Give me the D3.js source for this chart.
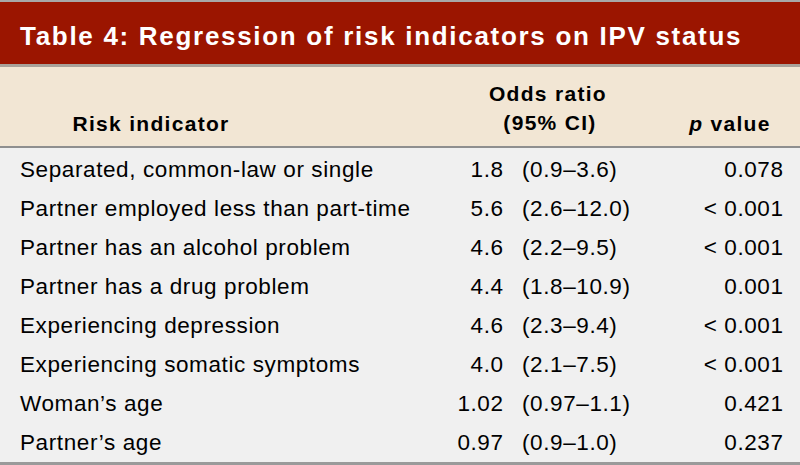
<!DOCTYPE html>
<html><head><meta charset="utf-8">
<script src="https://cdn.jsdelivr.net/npm/d3@7"></script>
<style>html,body{margin:0;padding:0;background:#f0f0f0;}svg{display:block;}</style>
</head><body>
<svg id="c" width="800" height="465"></svg>
<script>
const title = "Table 4: Regression of risk indicators on IPV status";
const headers = ["Risk indicator", "Odds ratio", "(95% CI)", "value"];
const indicators = [
  "Separated, common-law or single",
  "Partner employed less than part-time",
  "Partner has an alcohol problem",
  "Partner has a drug problem",
  "Experiencing depression",
  "Experiencing somatic symptoms",
  "Woman\u2019s age",
  "Partner\u2019s age"
];
const oddsRatios = ["1.8", "5.6", "4.6", "4.4", "4.6", "4.0", "1.02", "0.97"];
const ciLow = ["0.9", "2.6", "2.2", "1.8", "2.3", "2.1", "0.97", "0.9"];
const ciHigh = ["3.6", "12.0", "9.5", "10.9", "9.4", "7.5", "1.1", "1.0"];
const pValues = ["0.078", "< 0.001", "< 0.001", "0.001", "< 0.001", "< 0.001", "0.421", "0.237"];

const svg = d3.select("#c");
const W = 800, H = 465;
const font = "Liberation Sans, Arial, Helvetica, sans-serif";

// backgrounds
svg.append("rect").attr("x",0).attr("y",0).attr("width",W).attr("height",H).attr("fill","#f0f0f0");
svg.append("rect").attr("x",0).attr("y",0).attr("width",W).attr("height",2).attr("fill","#a8a8a8");
svg.append("rect").attr("x",0).attr("y",2).attr("width",W).attr("height",62).attr("fill","#9b1500");
svg.append("rect").attr("x",0).attr("y",64).attr("width",W).attr("height",3).attr("fill","#a9a29a");
svg.append("rect").attr("x",0).attr("y",67).attr("width",W).attr("height",79).attr("fill","#f2e6d4");
svg.append("rect").attr("x",0).attr("y",146).attr("width",W).attr("height",2).attr("fill","#8f8f8f");
svg.append("rect").attr("x",0).attr("y",462).attr("width",W).attr("height",3).attr("fill","#9a9a9a");

// title
svg.append("text").attr("x",20).attr("y",45)
  .attr("font-family",font).attr("font-weight","bold").attr("font-size",26)
  .attr("letter-spacing",1.7)
  .attr("fill","#ffffff").text(title);

// headers
const hdr = svg.append("g").attr("font-family",font).attr("font-weight","bold").attr("font-size",21)
  .attr("letter-spacing",1.3).attr("fill","#000");
hdr.append("text").attr("x",151).attr("y",131).attr("text-anchor","middle").text(headers[0]);
hdr.append("text").attr("x",548).attr("y",101).attr("text-anchor","middle").text(headers[1]);
hdr.append("text").attr("x",550).attr("y",130).attr("text-anchor","middle").text(headers[2]);
const pv = hdr.append("text").attr("x",730).attr("y",131).attr("text-anchor","middle");
pv.append("tspan").attr("font-style","italic").text("p");
pv.append("tspan").text(" " + headers[3]);

// rows
const y = d3.scaleBand().domain(d3.range(indicators.length)).range([149.5, 461.5]);
const g = svg.append("g").attr("font-family",font).attr("font-size",22.5)
  .attr("letter-spacing",0.6).attr("fill","#000");
const rows = g.selectAll("g.row").data(indicators).join("g").attr("class","row")
  .attr("transform",(d,i)=>`translate(0,${y(i) + y.bandwidth()/2 + 8})`);
rows.append("text").attr("x",20).text(d=>d);
rows.append("text").attr("x",503.6).attr("text-anchor","end").text((d,i)=>oddsRatios[i]);
rows.append("text").attr("x",522).text((d,i)=>`(${ciLow[i]}\u2013${ciHigh[i]})`);
rows.append("text").attr("x",783.6).attr("text-anchor","end").text((d,i)=>pValues[i]);
</script>
</body></html>
